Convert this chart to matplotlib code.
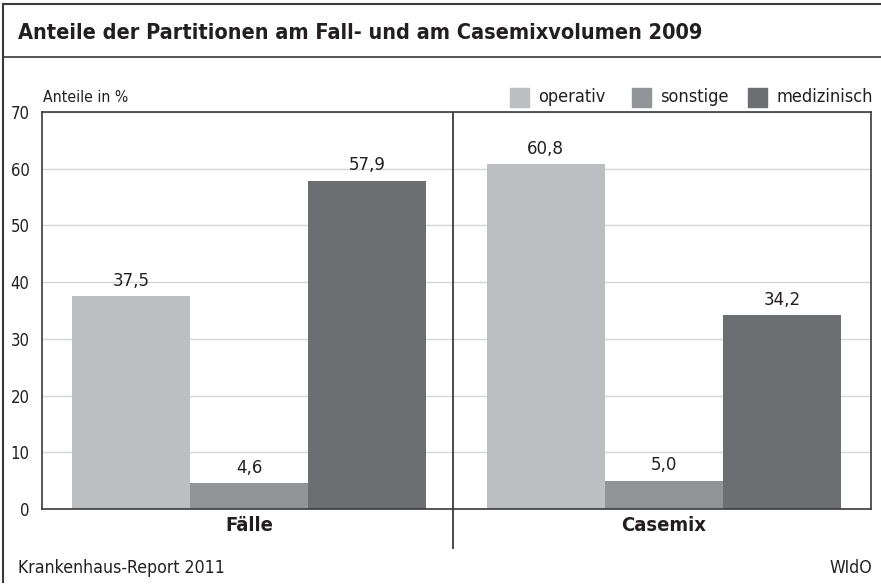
import numpy as np
import matplotlib
matplotlib.use("Agg")
import matplotlib.pyplot as plt
from matplotlib.lines import Line2D
from matplotlib.patches import Rectangle

# data
groups = ["Fälle", "Casemix"]
series = ["operativ", "sonstige", "medizinisch"]
operativ = [37.5, 60.8]
sonstige = [4.6, 5.0]
medizinisch = [57.9, 34.2]
colors = ["#bdbec2", "#939497", "#6d6e72"]
yticks = [0, 10, 20, 30, 40, 50, 60, 70]

plt.rcParams["font.family"] = ["DejaVu Sans"]
plt.rcParams["font.stretch"] = "condensed"

fig = plt.figure(figsize=(8.81, 5.85), dpi=100)
W, H = 881, 585
ax = fig.add_axes([42 / W, 1 - 509 / H, (871 - 42) / W, (509 - 112) / H])

x = np.arange(len(groups))
bw = 0.285
for i, (vals, col) in enumerate(zip([operativ, sonstige, medizinisch], colors)):
    pos = x + (i - 1) * bw
    ax.bar(pos, vals, bw, color=col, zorder=2)
    for p, v in zip(pos, vals):
        ax.text(p, v + 1.1, f"{v:.1f}".replace(".", ","), ha="center", va="bottom",
                fontsize=13.3, color="#231f20")

ax.set_xlim(-0.5, 1.5)
ax.set_ylim(0, 70)
ax.set_yticks(yticks)
ax.set_yticklabels([str(t) for t in yticks], fontsize=12, color="#231f20")
ax.tick_params(axis="y", length=0, pad=9)
ax.set_xticks(x)
ax.set_xticklabels(groups, fontsize=14.5, fontweight="bold", color="#231f20")
ax.tick_params(axis="x", length=0, pad=5)
ax.grid(axis="y", color="#d6d6d6", linewidth=1, zorder=0)
for s in ax.spines.values():
    s.set_color("#3a3a3a")
    s.set_linewidth(1.2)

# separator between groups
sep = (453 - 42) / (871 - 42) * 2 - 0.5
ax.plot([sep, sep], [0, 70], color="#3a3a3a", lw=1.3, zorder=3)
fig.add_artist(Line2D([453 / W, 453 / W], [1 - 509 / H, 1 - 548 / H], color="#3a3a3a", lw=1.3))

# frame and title band
fig.add_artist(Line2D([3 / W, 3 / W], [1 - 582 / H, 1 - 4 / H], color="#3a3a3a", lw=1.5))
fig.add_artist(Line2D([3 / W, 1], [1 - 4 / H, 1 - 4 / H], color="#3a3a3a", lw=1.5))
fig.add_artist(Line2D([3 / W, 1], [1 - 57 / H, 1 - 57 / H], color="#3a3a3a", lw=1.2))

fig.text(18 / W, 1 - 33 / H, "Anteile der Partitionen am Fall- und am Casemixvolumen 2009",
         fontsize=15.6, fontweight="bold", va="center", color="#231f20")
fig.text(43 / W, 1 - 98 / H, "Anteile in %", fontsize=11.3, va="center", color="#231f20")

# legend
lx = [510, 632, 748]
for xx, name, col in zip(lx, series, colors):
    fig.add_artist(Rectangle((xx / W, 1 - 107 / H), 19 / W, 19 / H, color=col,
                             transform=fig.transFigure))
    fig.text((xx + 28) / W, 1 - 97 / H, name, fontsize=13, va="center", color="#231f20")

fig.text(18 / W, 1 - 568 / H, "Krankenhaus-Report 2011", fontsize=12.7, va="center", color="#231f20")
fig.text(872 / W, 1 - 568 / H, "WIdO", fontsize=12.7, va="center", ha="right", color="#231f20")

fig.savefig("out.png", dpi=100)
